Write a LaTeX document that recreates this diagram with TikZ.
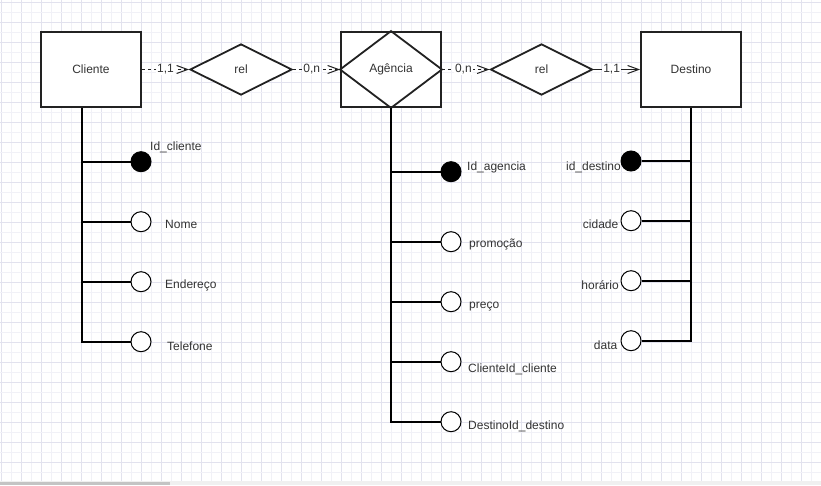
\documentclass[tikz,border=0pt]{standalone}
\usepackage{fontspec}
\setmainfont{Liberation Sans}
\usetikzlibrary{shapes.geometric,arrows.meta}
\definecolor{gridminor}{HTML}{F1F1F7}
\definecolor{gridmajor}{HTML}{E2E2EE}
\definecolor{ink}{HTML}{222222}
\definecolor{txt}{HTML}{333333}
\definecolor{barbg}{HTML}{F0F0F0}
\definecolor{barthumb}{HTML}{C4C4C4}
\begin{document}
\begin{tikzpicture}[x=1pt,y=-1pt,font=\fontsize{12}{14}\selectfont,
  entity/.style={draw=ink,line width=1.8pt,fill=white,minimum width=100pt,minimum height=75pt,inner sep=0pt,text=txt},
  relat/.style={diamond,draw=ink,line width=1.8pt,fill=white,minimum width=102pt,minimum height=51pt,aspect=2,inner sep=0pt,text=txt},
  conn/.style={draw=ink,line width=1pt,-{Straight Barb[length=11pt,width=8pt,line width=1pt]}},
  dashconn/.style={conn,dash pattern=on 3pt off 3pt},
  lbl/.style={fill=white,inner sep=1pt,text=txt},
  trunk/.style={draw=black,line width=1.8pt},
  attr/.style={circle,draw=black,line width=1pt,fill=white,minimum size=20pt,inner sep=0pt},
  keyattr/.style={attr,fill=black},
  alab/.style={text=txt,inner sep=0pt,text height=8.6pt,text depth=0pt}]
\useasboundingbox (0,0) rectangle (821,485);
\fill[white] (0,0) rectangle (821,485);
% grid
\foreach \k in {0,...,41}{
  \draw[gridminor,line width=0.8pt] ({11.5+20*\k},0) -- ({11.5+20*\k},481);
  \draw[gridmajor,line width=0.8pt] ({1.5+20*\k},0) -- ({1.5+20*\k},481);
}
\foreach \k in {0,...,24}{
  \draw[gridminor,line width=0.8pt] (0,{12.7+20*\k}) -- (821,{12.7+20*\k});
  \draw[gridmajor,line width=0.8pt] (0,{2.7+20*\k}) -- (821,{2.7+20*\k});
}
% scrollbar strip
\fill[barbg] (0,481) rectangle (821,485);
\fill[barthumb] (0,481.5) rectangle (170,485);

% entities and relationships
\node[entity] (cli) at (91,69.5) {Cliente};
\node[relat] (rel1) at (241,69.5) {rel};
\node[entity] (ag) at (391,69.5) {};
\draw[ink,line width=1.8pt] (ag.west) -- (ag.north) -- (ag.east) -- (ag.south) -- cycle;
\node[text=txt] (agt) at (391,69.5) {Agência};
\node[relat] (rel2) at (541.5,69.5) {rel};
\node[entity] (des) at (691,69.5) {Destino};

% connectors
\draw[dashconn] (cli.east) -- node[lbl,pos=0.5] {1,1} (rel1.west);
\draw[dashconn] (rel1.east) -- node[lbl,pos=0.4] {0,n} (ag.west);
\draw[dashconn] (ag.east) -- node[lbl,pos=0.45] {0,n} (rel2.west);
\draw[conn] (rel2.east) -- node[lbl,pos=0.39] {1,1} (des.west);

% Cliente attributes
\coordinate (ctop) at ([xshift=-9pt]cli.south);
\node[keyattr] (ca1) at (141,161.7) {};
\node[attr] (ca2) at (141,221.7) {};
\node[attr] (ca3) at (141,281.7) {};
\node[attr] (ca4) at (141,341.7) {};
\draw[trunk] (ctop) |- (ca4.west);
\foreach \n in {ca1,ca2,ca3}{\draw[trunk] (ctop |- \n) -- (\n.west);}
\node[alab,anchor=west] (cl1) at (150,146) {Id\_cliente};
\node[alab,anchor=west] (cl2) at (165,224) {Nome};
\node[alab,anchor=west] (cl3) at (165,284) {Endereço};
\node[alab,anchor=west] (cl4) at (167,346) {Telefone};

% Agencia attributes
\node[keyattr] (aa1) at (451,171.7) {};
\node[attr] (aa2) at (451,241.7) {};
\node[attr] (aa3) at (451,301.7) {};
\node[attr] (aa4) at (451,361.7) {};
\node[attr] (aa5) at (451,421.7) {};
\draw[trunk] (ag.south) |- (aa5.west);
\foreach \n in {aa1,aa2,aa3,aa4}{\draw[trunk] (ag.south |- \n) -- (\n.west);}
\node[alab,anchor=west] (al1) at (467,166) {Id\_agencia};
\node[alab,anchor=west] (al2) at (469,243) {promoção};
\node[alab,anchor=west] (al3) at (469,304) {preço};
\node[alab,anchor=west] (al4) at (468,368) {ClienteId\_cliente};
\node[alab,anchor=west] (al5) at (468,425) {DestinoId\_destino};

% Destino attributes
\node[keyattr] (da1) at (631,161) {};
\node[attr] (da2) at (631,220.7) {};
\node[attr] (da3) at (631,280.7) {};
\node[attr] (da4) at (631,340.7) {};
\draw[trunk] (des.south) |- (da4.east);
\foreach \n in {da1,da2,da3}{\draw[trunk] (des.south |- \n) -- (\n.east);}
\node[alab,anchor=east] (dl1) at (621,166) {id\_destino};
\node[alab,anchor=east] (dl2) at (618.5,224) {cidade};
\node[alab,anchor=east] (dl3) at (619,285) {horário};
\node[alab,anchor=east] (dl4) at (617.5,345) {data};
\end{tikzpicture}
\end{document}
